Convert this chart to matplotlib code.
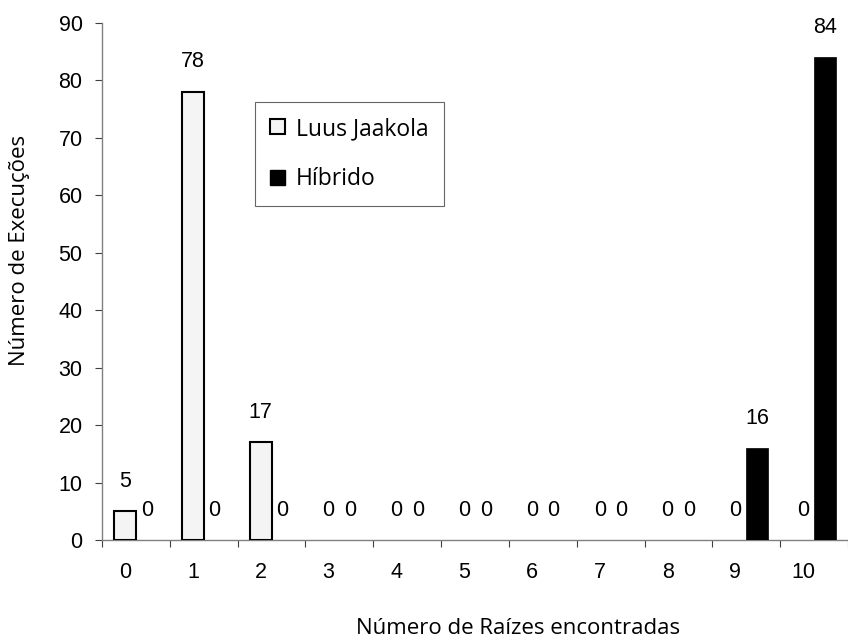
import matplotlib
matplotlib.use("Agg")
import matplotlib.pyplot as plt
from matplotlib.patches import Patch
import numpy as np

categories = ["0", "1", "2", "3", "4", "5", "6", "7", "8", "9", "10"]
luus_jaakola = [5, 78, 17, 0, 0, 0, 0, 0, 0, 0, 0]
hibrido = [0, 0, 0, 0, 0, 0, 0, 0, 0, 16, 84]
series_names = ["Luus Jaakola", "Híbrido"]

W, H = 848, 638
fig = plt.figure(figsize=(W / 100, H / 100), dpi=100)
ax = fig.add_axes([102 / W, (H - 540) / H, (W - 102) / W, (540 - 23) / H])

x = np.arange(len(categories))
bw = 0.32
lw_lj = [1.5 if v > 0 else 0 for v in luus_jaakola]
lw_hb = [0.5 if v > 0 else 0 for v in hibrido]
ax.bar(x - bw / 2, luus_jaakola, bw, color="#f4f4f4", edgecolor="black", linewidth=lw_lj, zorder=3)
ax.bar(x + bw / 2, hibrido, bw, color="black", edgecolor="black", linewidth=lw_hb, zorder=3)

arial = "Liberation Sans"
calibri = "Open Sans"
fs = 15.5

# value labels
for xi, v in zip(x - bw / 2, luus_jaakola):
    ax.annotate(str(v), (xi, v), xytext=(0, 30), textcoords="offset pixels",
                ha="center", va="center", fontsize=fs, family=arial)
for xi, v in zip(x + bw / 2, hibrido):
    ax.annotate(str(v), (xi, v), xytext=(0, 30), textcoords="offset pixels",
                ha="center", va="center", fontsize=fs, family=arial)

ax.set_xlim(-0.5, (W - 102) / 68.6 - 0.5)
ax.set_ylim(0, 90)
ax.set_yticks(np.arange(0, 91, 10))
ax.set_yticklabels([str(v) for v in range(0, 91, 10)], fontsize=fs, family=arial)

ax.set_xticks(np.arange(-0.5, len(categories), 1.0))
ax.set_xticklabels([])
ax.set_xticks(x - bw / 2, minor=True)
ax.set_xticklabels(categories, minor=True, fontsize=fs, family=arial)
ax.tick_params(axis="x", which="minor", length=0, pad=16)
ax.tick_params(axis="x", which="major", length=5, width=0.8, color="#404040")
ax.tick_params(axis="y", length=5, width=0.8, color="#404040", pad=9)

for s in ["top", "right"]:
    ax.spines[s].set_visible(False)
for s in ["left", "bottom"]:
    ax.spines[s].set_color("#808080")
    ax.spines[s].set_linewidth(1.0)

fig.text(20 / W, 1 - 250 / H, "Número de Execuções", ha="center", va="center",
         rotation=90, fontsize=16, family=calibri)
fig.text(518 / W, 1 - 628 / H, "Número de Raízes encontradas", ha="center", va="center",
         fontsize=16, family=calibri)

handles = [Patch(facecolor="#f4f4f4", edgecolor="black", linewidth=1.5),
           Patch(facecolor="black", edgecolor="black")]
leg = fig.legend(handles, series_names, loc="upper left",
                 bbox_to_anchor=(255 / W, 1 - 102 / H), frameon=True, fancybox=False,
                 prop={"family": calibri, "size": 16.5}, handlelength=0.65, handleheight=0.65,
                 handletextpad=0.5, labelspacing=1.15, borderpad=0.65, borderaxespad=0)
leg.get_frame().set_edgecolor("#404040")
leg.get_frame().set_linewidth(0.8)

fig.savefig("out.png", dpi=100)
